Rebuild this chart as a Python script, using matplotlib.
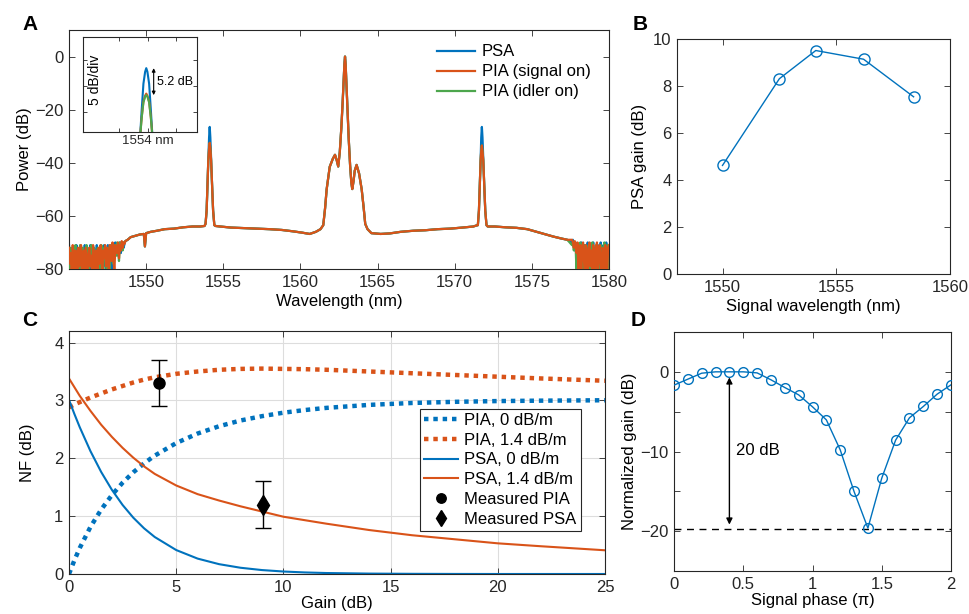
import numpy as np
import matplotlib
matplotlib.use('Agg')
import matplotlib.pyplot as plt

plt.rcParams['font.family'] = ['Liberation Sans', 'DejaVu Sans']
plt.rcParams['font.size'] = 12
plt.rcParams['axes.linewidth'] = 0.8
plt.rcParams['axes.edgecolor'] = '#262626'
plt.rcParams['xtick.color'] = '#262626'
plt.rcParams['ytick.color'] = '#262626'

BLUE = '#0072BD'
ORANGE = '#D95319'
GREEN = '#4DA64D'

# ---------------- Panel A: spectrum ----------------
wl_left = np.linspace(1545.0, 1548.6, 61)
psa_left = [-71, -82, -73, -76, -82, -72, -78, -82, -71, -74,
            -82, -73, -77, -82, -72, -75, -82, -71, -79, -74,
            -72, -82, -76, -71, -82, -74, -78, -72, -75, -82,
            -71, -77, -82, -73, -74, -82, -72, -79, -71, -75,
            -82, -73, -71, -78, -74, -72, -82, -71, -73, -76,
            -70, -74, -71, -75, -72, -70, -74, -71, -70, -72, -70.5]
sig_left = [-72, -78, -74, -82, -71, -76, -82, -73, -75, -82,
            -72, -79, -74, -71, -82, -76, -73, -82, -72, -77,
            -82, -74, -72, -79, -75, -82, -71, -76, -82, -73,
            -74, -82, -72, -78, -71, -75, -82, -73, -76, -71,
            -79, -72, -74, -82, -71, -73, -77, -70, -75, -82,
            -71, -72, -74, -70, -76, -71, -73, -69.5, -72, -70, -70.5]
idl_left = [-74, -82, -72, -79, -75, -82, -73, -71, -82, -76,
            -73, -82, -71, -76, -82, -72, -78, -74, -82, -71,
            -75, -82, -73, -77, -71, -82, -74, -72, -79, -75,
            -82, -72, -74, -82, -76, -71, -78, -82, -72, -74,
            -77, -82, -72, -75, -82, -71, -74, -72, -78, -71,
            -73, -75, -70, -72, -77, -70, -72, -71, -73, -70, -70]

wl_right = np.linspace(1577.6, 1580.0, 41)
psa_right = [-70, -69, -71, -73, -70, -72, -82, -71, -74, -82,
             -70, -75, -82, -72, -71, -82, -73, -70, -82, -76,
             -71, -82, -74, -70, -82, -72, -77, -82, -71, -73,
             -82, -70, -75, -82, -71, -74, -82, -70, -73, -82, -72]
sig_right = [-69, -70, -72, -69.5, -71, -74, -70, -82, -72, -71,
             -82, -73, -70, -77, -82, -71, -74, -82, -72, -70,
             -79, -73, -82, -71, -75, -82, -72, -70, -82, -74,
             -71, -78, -82, -72, -73, -82, -71, -76, -82, -72, -71]
idl_right = [-71, -70, -73, -70, -72, -82, -71, -75, -82, -70,
             -74, -82, -72, -71, -82, -76, -73, -82, -71, -74,
             -82, -72, -70, -78, -82, -73, -71, -82, -75, -72,
             -82, -71, -74, -82, -72, -70, -77, -82, -71, -73, -82]

wl_mid = [1548.65, 1548.8, 1549.0, 1549.3, 1549.6, 1549.85, 1549.92, 1550.0, 1550.3, 1550.7,
          1551.2, 1551.8, 1552.4, 1553.0, 1553.5, 1553.78,
          1554.5, 1554.8, 1555.5, 1556.3, 1557.2, 1558.0, 1558.8, 1559.5, 1560.1, 1560.6,
          1561.0, 1561.3, 1561.48, 1561.6, 1561.7, 1561.9, 1562.1, 1562.24, 1562.35, 1562.45,
          1562.55, 1562.65, 1562.73, 1562.8, 1562.85, 1562.89, 1562.93, 1562.98, 1563.05, 1563.13,
          1563.22, 1563.3, 1563.36, 1563.44, 1563.52, 1563.64, 1563.8, 1563.97, 1564.1, 1564.2,
          1564.35, 1564.6, 1565.2, 1565.8, 1566.5, 1567.3, 1568.1, 1568.9, 1569.7, 1570.5,
          1571.2, 1571.42,
          1572.14, 1572.6, 1573.3, 1574.0, 1574.7, 1575.3, 1575.9, 1576.4, 1576.9, 1577.3]
base_mid = [-69.5, -69.0, -68.0, -67.5, -67.0, -66.8, -71.5, -66.5, -66.0, -65.6,
            -65.0, -64.8, -64.3, -64.0, -64.0, -63.8,
            -63.8, -64.0, -64.4, -64.6, -64.8, -65.0, -65.3, -65.8, -66.3, -66.8,
            -66.0, -65.0, -63.5, -57.0, -50.0, -41.5, -38.5, -37.0, -39.0, -41.4,
            -36.0, -27.0, -18.0, -9.0, -3.0, 0.0, -3.0, -10.0, -20.0, -31.0,
            -41.0, -47.5, -49.9, -47.0, -43.0, -40.8, -44.0, -50.0, -57.0, -63.0,
            -65.0, -66.5, -66.8, -66.6, -66.0, -65.6, -65.4, -65.0, -64.8, -64.4,
            -64.0, -63.6,
            -64.0, -64.0, -64.3, -64.5, -65.0, -66.0, -67.0, -67.8, -68.5, -69.0]

wl_peak1 = [1553.85, 1553.92, 1553.98, 1554.03, 1554.08, 1554.12, 1554.16, 1554.21, 1554.27, 1554.34, 1554.42]
psa_peak1 = [-63.0, -58.0, -48.0, -39.0, -30.5, -26.5, -30.5, -39.0, -48.0, -58.0, -63.5]
pia_peak1 = [-63.0, -58.0, -48.0, -39.0, -34.5, -32.5, -34.5, -39.0, -48.0, -58.0, -63.5]
wl_peak2 = [1571.5, 1571.57, 1571.63, 1571.68, 1571.72, 1571.76, 1571.8, 1571.85, 1571.91, 1571.98, 1572.06]
psa_peak2 = [-63.5, -58.0, -48.0, -39.0, -30.5, -26.5, -30.5, -39.0, -48.0, -58.0, -63.5]
pia_peak2 = [-63.5, -58.0, -48.0, -39.0, -35.5, -33.5, -35.5, -39.0, -48.0, -58.0, -63.5]

# inset (zoom on the 1554 nm signal)
inset_wl = [1553.82, 1553.86, 1553.89, 1553.92, 1553.95, 1553.97, 1553.99, 1554.02, 1554.05, 1554.08, 1554.12]
inset_psa = [-48, -40, -34.5, -29.5, -27.2, -26.5, -27.2, -29.5, -34.5, -40, -48]
inset_sig = [-48, -40, -36.0, -33.0, -31.8, -31.4, -31.8, -33.0, -36.0, -40, -48]
inset_idl = [-48, -40, -36.0, -33.1, -32.0, -31.7, -32.0, -33.1, -36.0, -40, -48]

# ---------------- Panel B ----------------
sig_wl = [1550.0, 1552.5, 1554.1, 1556.2, 1558.4]
psa_gain = [4.62, 8.31, 9.51, 9.14, 7.54]

# ---------------- Panel C ----------------
gain_db = [0, 0.25, 0.5, 1, 1.5, 2, 2.5, 3, 3.5, 4, 5, 6, 7, 8, 9, 10, 11, 12, 14, 16, 18, 20, 22, 25]
nf_pia_0 = [0.0, 0.236, 0.449, 0.813, 1.113, 1.364, 1.578, 1.758, 1.912, 2.046, 2.263, 2.428,
            2.554, 2.653, 2.728, 2.788, 2.834, 2.871, 2.923, 2.956, 2.976, 2.989, 2.996, 3.003]
nf_pia_14 = [2.88, 2.93, 2.97, 3.05, 3.12, 3.19, 3.25, 3.31, 3.36, 3.40, 3.46, 3.50,
             3.53, 3.545, 3.55, 3.545, 3.54, 3.53, 3.50, 3.47, 3.44, 3.41, 3.38, 3.34]
nf_psa_0 = [3.01, 2.767, 2.538, 2.124, 1.764, 1.455, 1.193, 0.973, 0.790, 0.639, 0.414, 0.266,
            0.170, 0.108, 0.068, 0.043, 0.027, 0.017, 0.007, 0.003, 0.001, 0.0, 0.0, 0.0]
nf_psa_14 = [3.38, 3.23, 3.08, 2.82, 2.58, 2.37, 2.18, 2.01, 1.86, 1.73, 1.53, 1.38,
             1.27, 1.17, 1.08, 0.99, 0.93, 0.87, 0.76, 0.67, 0.60, 0.53, 0.48, 0.41]
meas_pia_gain, meas_pia_nf, meas_pia_err = [4.2], [3.3], [0.4]
meas_psa_gain, meas_psa_nf, meas_psa_err = [9.05], [1.2], [0.4]

# ---------------- Panel D ----------------
phase_pi = [0.0, 0.1, 0.2, 0.3, 0.4, 0.5, 0.6, 0.7, 0.8, 0.9, 1.0,
            1.1, 1.2, 1.3, 1.4, 1.5, 1.6, 1.7, 1.8, 1.9, 2.0]
norm_gain = [-1.67, -0.92, -0.17, 0.0, 0.0, 0.0, -0.13, -1.0, -1.97, -2.89, -4.39,
             -6.03, -9.79, -15.02, -19.62, -13.35, -8.58, -5.77, -4.35, -2.80, -1.63]
floor_level = -19.7
arrow_phase = 0.4
extinction_label = '20 dB'

# =====================================================
W, H = 969, 614
fig = plt.figure(figsize=(W / 100, H / 100), dpi=100)


def px_axes(x0, y0, x1, y1):
    return fig.add_axes([x0 / W, 1 - y1 / H, (x1 - x0) / W, (y1 - y0) / H])


def style(ax, length=4):
    ax.tick_params(direction='in', top=True, right=True, length=length, width=0.6,
                   labelsize=12, pad=4)


def assemble(left_wl, left, mid_wl, mid, pk1_wl, pk1, pk2_wl, pk2, right_wl, right):
    x = np.concatenate([left_wl, mid_wl, pk1_wl, pk2_wl, right_wl])
    y = np.concatenate([left, mid, pk1, pk2, right])
    order = np.argsort(x, kind='stable')
    return x[order], y[order]


# ---- A ----
axA = px_axes(69, 30, 609, 269)
xp, yp = assemble(wl_left, psa_left, wl_mid, base_mid, wl_peak1, psa_peak1, wl_peak2, psa_peak2, wl_right, psa_right)
xi, yi = assemble(wl_left, idl_left, wl_mid, base_mid, wl_peak1, pia_peak1, wl_peak2, pia_peak2, wl_right, idl_right)
xs, ys = assemble(wl_left, sig_left, wl_mid, base_mid, wl_peak1, pia_peak1, wl_peak2, pia_peak2, wl_right, sig_right)
lp, = axA.plot(xp, yp, color=BLUE, lw=1.6, zorder=2)
li, = axA.plot(xi, yi, color=GREEN, lw=1.6, zorder=3)
ls_, = axA.plot(xs, ys, color=ORANGE, lw=1.6, zorder=4)
axA.set_xlim(1545, 1580)
axA.set_ylim(-80, 10)
axA.set_xticks([1550, 1555, 1560, 1565, 1570, 1575, 1580])
axA.set_yticks([-80, -60, -40, -20, 0])
style(axA)
axA.set_xlabel('Wavelength (nm)', labelpad=3)
axA.set_ylabel('Power (dB)', labelpad=2)
axA.legend([lp, ls_, li], ['PSA', 'PIA (signal on)', 'PIA (idler on)'],
           loc='upper left', bbox_to_anchor=(0.681, 0.94), frameon=False,
           fontsize=12, handlelength=2.3, handletextpad=0.4, labelspacing=0.3,
           borderpad=0, borderaxespad=0)

# inset
axI = px_axes(83, 37, 197, 132)
axI.plot(inset_wl, inset_psa, color=BLUE, lw=1.5)
axI.plot(inset_wl, inset_sig, color=ORANGE, lw=1.5)
axI.plot(inset_wl, inset_idl, color=GREEN, lw=1.5)
axI.set_xlim(1552.86, 1554.86)
axI.set_ylim(-38.8, -20.5)
axI.set_xticks([1553.5, 1554.0, 1554.5])
axI.set_xticklabels(['', '1554 nm', ''])
axI.set_yticks([-35, -30, -25])
axI.set_yticklabels([])
axI.tick_params(direction='in', top=True, right=True, length=3, width=0.6, labelsize=9.5, pad=2)
axI.text(0.105, 0.55, '5 dB/div', transform=axI.transAxes, rotation=90,
         ha='center', va='center', fontsize=10)
top_psa = max(inset_psa)
top_idl = max(inset_idl)
axI.annotate('', xy=(1554.1, top_idl), xytext=(1554.1, top_psa),
             arrowprops=dict(arrowstyle='<|-|>', color='k', lw=0.8, mutation_scale=5,
                             shrinkA=0, shrinkB=0))
axI.text(1554.15, (top_psa + top_idl) / 2, f'{top_psa - top_idl:.1f} dB',
         ha='left', va='center', fontsize=9)

# ---- B ----
axB = px_axes(677, 39, 950, 274)
axB.plot(sig_wl, psa_gain, '-o', color=BLUE, lw=1.0, ms=8, mfc='none', mew=1.0)
axB.set_xlim(1548, 1560)
axB.set_ylim(0, 10)
axB.set_xticks([1550, 1555, 1560])
axB.set_yticks([0, 2, 4, 6, 8, 10])
style(axB)
axB.set_xlabel('Signal wavelength (nm)', labelpad=3)
axB.set_ylabel('PSA gain (dB)', labelpad=4)

# ---- C ----
axC = px_axes(69, 331, 605, 574)
dot = (0, (1, 1.1))
h1, = axC.plot(gain_db, nf_pia_0, color=BLUE, lw=3.2, ls=dot, dash_capstyle='butt', label='PIA, 0 dB/m')
h2, = axC.plot(gain_db, nf_pia_14, color=ORANGE, lw=3.2, ls=dot, dash_capstyle='butt', label='PIA, 1.4 dB/m')
h3, = axC.plot(gain_db, nf_psa_0, color=BLUE, lw=1.5, label='PSA, 0 dB/m')
h4, = axC.plot(gain_db, nf_psa_14, color=ORANGE, lw=1.5, label='PSA, 1.4 dB/m')
axC.errorbar(meas_pia_gain, meas_pia_nf, yerr=meas_pia_err, fmt='none', ecolor='k',
             elinewidth=1, capsize=5.5, capthick=1, zorder=5)
axC.errorbar(meas_psa_gain, meas_psa_nf, yerr=meas_psa_err, fmt='none', ecolor='k',
             elinewidth=1, capsize=5.5, capthick=1, zorder=5)
h5, = axC.plot(meas_pia_gain, meas_pia_nf, 'o', color='k', ms=8, zorder=6, label='Measured PIA')
h6, = axC.plot(meas_psa_gain, meas_psa_nf, 'd', color='k', ms=10, zorder=6, label='Measured PSA')
axC.set_xlim(0, 25)
axC.set_ylim(0, 4.2)
axC.set_xticks([0, 5, 10, 15, 20, 25])
axC.set_yticks([0, 1, 2, 3, 4])
axC.grid(True, color='#DDDDDD', lw=0.8)
axC.set_axisbelow(True)
style(axC)
axC.set_xlabel('Gain (dB)', labelpad=1)
axC.set_ylabel('NF (dB)', labelpad=14)
legC = axC.legend(handles=[h1, h2, h3, h4, h5, h6], loc='upper left',
                  bbox_to_anchor=((420 - 69) / 536, (574 - 409) / 243),
                  fontsize=12, frameon=True, fancybox=False, edgecolor='#262626',
                  framealpha=1, handlelength=2.0, handletextpad=0.4,
                  labelspacing=0.28, borderpad=0.25, borderaxespad=0, markerscale=0.85)
legC.get_frame().set_linewidth(0.8)

# ---- D ----
axD = px_axes(674, 332, 951, 571)
axD.plot(phase_pi, norm_gain, '-o', color=BLUE, lw=1.0, ms=7, mfc='none', mew=1.0, zorder=3)
axD.axhline(floor_level, color='k', lw=1.0, ls=(0, (5, 4)), zorder=2)
axD.annotate('', xy=(arrow_phase, floor_level), xytext=(arrow_phase, 0),
             arrowprops=dict(arrowstyle='<|-|>', color='k', lw=1.0, mutation_scale=9,
                             shrinkA=4, shrinkB=3))
axD.text(arrow_phase + 0.05, floor_level / 2, extinction_label, ha='left', va='center', fontsize=12)
axD.set_xlim(0, 2)
axD.set_ylim(-25, 5)
axD.set_xticks([0, 0.5, 1, 1.5, 2])
axD.set_xticklabels(['0', '0.5', '1', '1.5', '2'])
axD.set_yticks([-20, -15, -10, -5, 0])
axD.set_yticklabels(['\u221220', '', '\u221210', '', '0'])
style(axD)
axD.set_xlabel('Signal phase (\u03c0)', labelpad=1)
axD.set_ylabel('Normalized gain (dB)', labelpad=2)

# panel letters
for lab, (px, py) in {'A': (30, 25), 'B': (640, 24), 'C': (30, 320), 'D': (638, 320)}.items():
    fig.text(px / W, 1 - py / H, lab, fontsize=15, fontweight='bold', ha='center', va='center')

fig.savefig('out.png', dpi=100)
